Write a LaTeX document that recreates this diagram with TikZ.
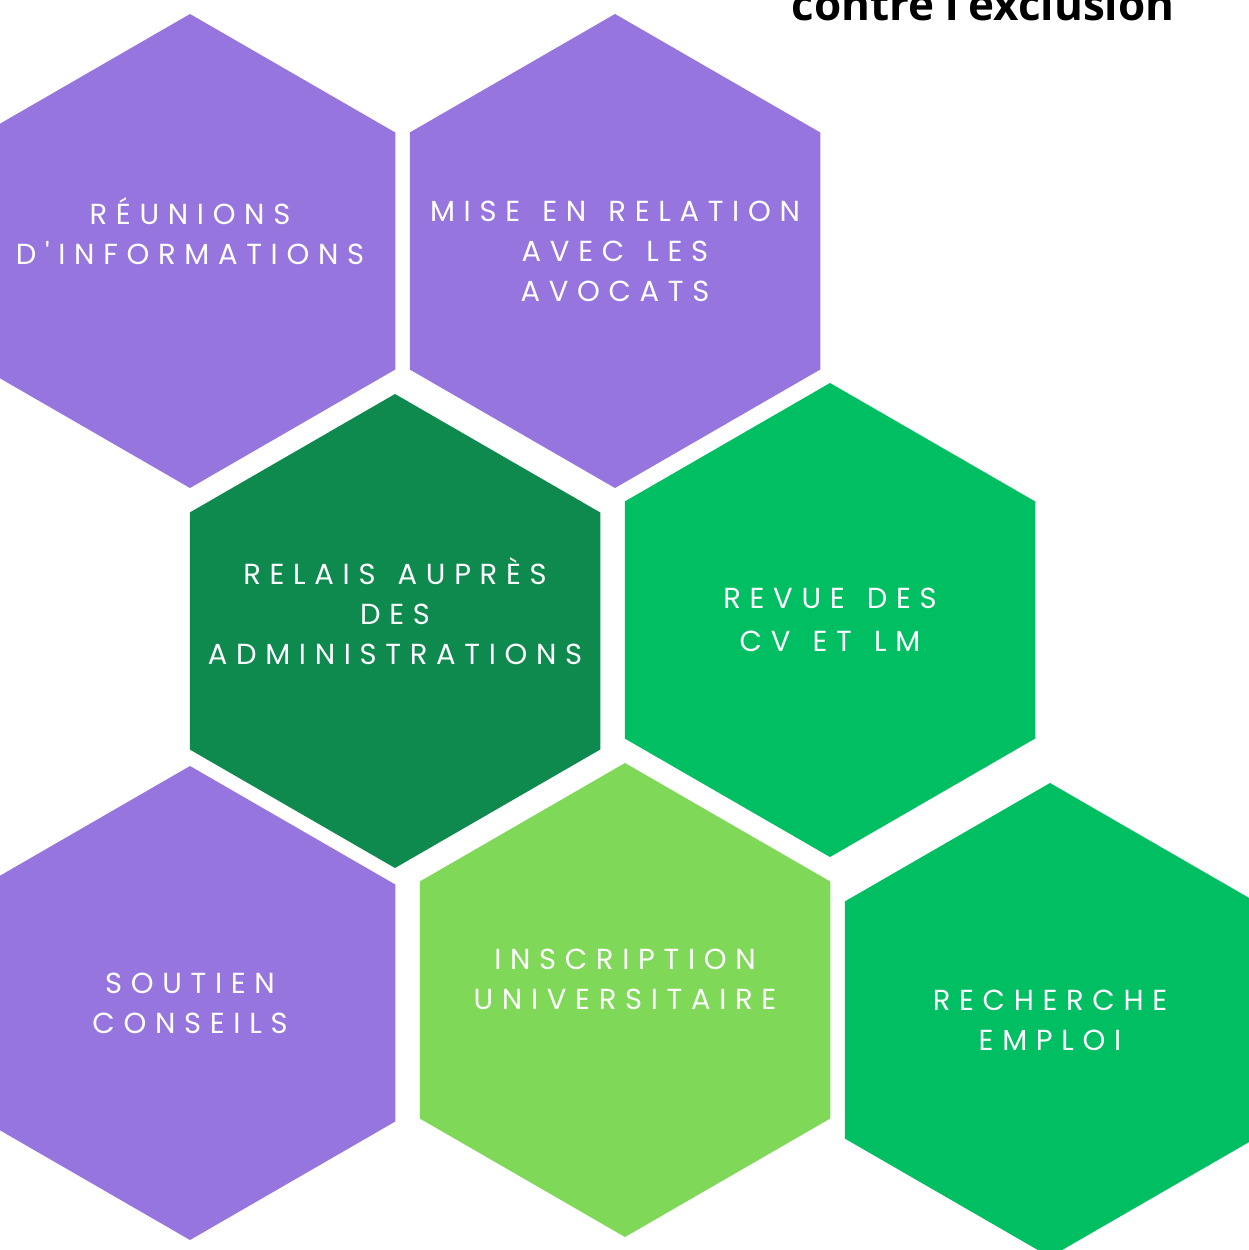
\documentclass[tikz,border=0pt]{standalone}
\usepackage{fontspec}
\setmainfont{Poppins}
\newfontfamily\hexfont[LetterSpace=30,WordSpace=1.35,Ligatures=ResetAll]{Poppins}
\newfontfamily\titlefont{Open Sans}
\usetikzlibrary{shapes.geometric,positioning}

\definecolor{hexpurple}{HTML}{9775DE}
\definecolor{hexdark}{HTML}{0E8A4E}
\definecolor{hexgreen}{HTML}{00BE62}
\definecolor{hexlight}{HTML}{80D858}

\begin{document}
\begin{tikzpicture}[
    x=1pt,y=-1pt,
    hex/.style={regular polygon,regular polygon sides=6,shape border rotate=30,
      minimum size=474pt,inner sep=0,outer sep=0,draw=none},
    purple/.style={hex,fill=hexpurple},
    dark/.style={hex,fill=hexdark},
    green/.style={hex,fill=hexgreen},
    light/.style={hex,fill=hexlight},
    txt/.style={text=white,align=center,inner sep=0,
      font=\hexfont\fontsize{29}{40}\selectfont},
    title/.style={font=\titlefont\bfseries\fontsize{44}{50}\selectfont,inner sep=0}
    ]

    \useasboundingbox (0,0) rectangle (1249,1250);
    \clip (0,0) rectangle (1249,1250);
    \fill[white] (0,0) rectangle (1249,1250);

    \node [purple] (h1) at (190,251) {};
    \node [purple] (h2) at (615,251) {};
    \node [dark]   (h3) at (395,631) {};
    \node [green]  (h4) at (830,620) {};
    \node [purple] (h5) at (190,1003) {};
    \node [light]  (h6) at (625,1000) {};
    \node [green]  (h7) at (1050,1020) {};

    % labels
    \node [txt,yshift=20pt] (t1) at (h1) {RÉUNIONS\\D'INFORMATIONS};
    \node [txt] (t2) at (h2) {MISE EN RELATION\\AVEC LES\\AVOCATS};
    \node [txt,yshift=20pt] (t3) at (h3) {RELAIS AUPRÈS\\DES\\ADMINISTRATIONS};
    \node [txt] (t4) at (h4) {REVUE DES\\[3pt]CV ET LM};
    \node [txt] (t5) at (h5) {SOUTIEN\\CONSEILS};
    \node [txt,yshift=21pt] (t6) at (h6) {INSCRIPTION\\UNIVERSITAIRE};
    \node [txt] (t7) at (h7) {RECHERCHE\\EMPLOI};

    \node [title,anchor=base] (head) at (983,20) {contre l'exclusion};
  \end{tikzpicture}
\end{document}
